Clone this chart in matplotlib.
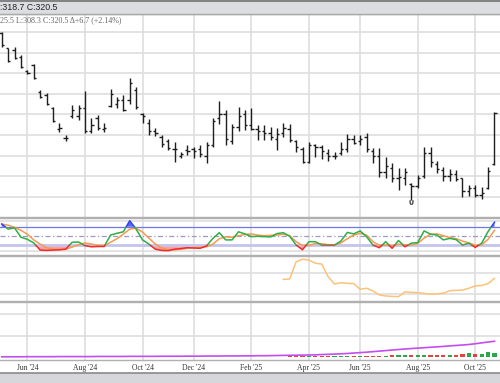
import matplotlib
matplotlib.use("Agg")
import matplotlib.pyplot as plt
import numpy as np
import pandas as pd
from matplotlib.patches import Rectangle
from matplotlib.lines import Line2D

# weekly bars, week starting on Monday
week_start = pd.date_range("2024-04-29", periods=78, freq="W-MON")

opens = [359.5, 352.0, 351.0, 348.0, 341.0, 344.0, 331.0, 329.5, 323.0, 313.0,
         308.5, 319.0, 319.0, 323.0, 312.0, 318.0, 313.0, 324.0, 325.0, 327.0,
         327.0, 332.0, 320.0, 316.0, 312.0, 309.0, 307.0, 303.0, 300.0, 302.5,
         303.0, 303.0, 300.0, 305.0, 318.0, 320.0, 307.0, 314.0, 320.0, 315.0,
         313.0, 312.0, 311.0, 308.0, 311.0, 313.0, 307.0, 303.0, 297.0, 305.0,
         304.0, 301.0, 300.0, 301.0, 303.0, 308.0, 307.0, 309.0, 302.0, 300.0,
         292.0, 294.0, 289.0, 289.0, 286.0, 285.0, 290.0, 301.0, 296.0, 293.0,
         290.0, 291.0, 289.0, 283.0, 284.0, 281.0, 284.0, 296.0]
highs = [359.9, 352.2, 352.7, 348.8, 341.4, 344.4, 331.8, 330.3, 323.5, 315.8,
         309.9, 324.5, 324.5, 331.3, 318.2, 319.7, 315.8, 332.3, 328.4, 329.4,
         337.6, 333.3, 320.6, 317.7, 313.3, 309.9, 308.0, 306.5, 301.7, 305.1,
         304.1, 305.1, 306.5, 318.2, 326.5, 322.1, 315.3, 323.5, 322.1, 323.1,
         314.8, 314.8, 313.8, 313.3, 315.8, 315.3, 307.5, 304.1, 306.5, 305.6,
         305.1, 303.1, 301.7, 306.5, 310.4, 309.9, 309.9, 310.9, 303.6, 303.6,
         299.3, 296.4, 293.9, 293.9, 286.7, 290.6, 304.1, 304.1, 297.3, 294.4,
         293.4, 292.9, 289.1, 285.7, 285.7, 284.7, 294.4, 321.1]
lows = [352.7, 345.4, 346.8, 342.5, 339.6, 337.1, 327.9, 324.5, 316.2, 311.4,
        307.0, 318.2, 317.2, 310.9, 310.9, 312.4, 311.4, 323.5, 323.1, 321.6,
        325.0, 322.6, 315.8, 309.9, 309.5, 304.1, 302.7, 296.8, 298.8, 300.2,
        298.8, 299.3, 296.4, 304.1, 315.3, 305.1, 305.6, 311.9, 312.4, 312.4,
        307.5, 307.5, 307.5, 302.7, 309.0, 306.5, 301.7, 296.4, 296.4, 299.3,
        298.3, 297.3, 298.3, 300.2, 301.7, 305.6, 305.1, 301.7, 296.4, 289.6,
        289.1, 287.2, 283.3, 285.7, 278.4, 284.2, 289.1, 294.4, 291.5, 287.6,
        287.6, 287.6, 279.9, 280.3, 279.9, 278.9, 283.7, 295.4]
closes = [353.6, 346.0, 347.5, 343.0, 340.0, 337.5, 328.5, 325.0, 317.0, 313.5,
          308.5, 322.0, 323.0, 312.0, 315.0, 313.5, 313.5, 330.0, 327.0, 322.0,
          335.0, 323.5, 319.0, 312.0, 311.0, 305.5, 303.5, 303.0, 300.5, 302.0,
          302.0, 300.5, 305.0, 317.0, 320.0, 308.0, 314.0, 319.0, 315.0, 313.0,
          312.0, 311.0, 309.0, 310.5, 313.5, 307.5, 304.0, 297.0, 305.0, 304.0,
          302.0, 300.0, 300.0, 303.0, 308.0, 306.0, 308.0, 303.0, 300.0, 292.0,
          295.0, 289.0, 289.5, 292.0, 285.0, 289.0, 301.0, 297.0, 293.5, 290.0,
          291.0, 288.5, 283.0, 284.0, 281.0, 282.0, 292.5, 320.5]

stoch_k = [89, 72, 76, 45, 38, 26, 2, 1, 2, 3,
           5, 28, 29, 17, 13, 14, 14, 52, 58, 63,
           100, 72, 36, 22, 5, 1, 0, 5, 7, 10,
           9, 8, 16, 41, 60, 36, 36, 63, 56, 47,
           48, 47, 46, 57, 60, 48, 19, 3, 30, 30,
           19, 19, 19, 32, 61, 56, 66, 47, 19, 10,
           30, 8, 34, 13, 25, 27, 66, 55, 52, 36,
           41, 37, 19, 25, 11, 25, 64, 95]
stoch_d = [89, 85, 78, 68, 55, 36, 22, 10, 5, 4,
           5, 12, 20, 26, 22, 18, 16, 28, 40, 55,
           72, 75, 62, 42, 22, 9, 3, 3, 5, 8,
           10, 11, 13, 22, 40, 46, 45, 50, 54, 56,
           52, 50, 51, 52, 55, 50, 30, 17, 18, 24,
           23, 20, 19, 26, 40, 52, 58, 52, 30, 18,
           19, 16, 22, 19, 19, 24, 42, 55, 56, 50,
           44, 40, 32, 26, 18, 20, 38, 68]

nan = np.nan
third_line = [nan] * 44 + [
    17.1, 17.3, 25.5, 26.7, 26.3, 24.8, 24.4, 18.4, 14.9, 15.5,
    15.2, 15.1, 12.4, 12.9, 11.6, 9.7, 9.2, 9.0, 8.9, 11.2,
    10.9, 10.8, 10.4, 10.1, 10.2, 10.5, 11.7, 11.9, 12.0, 12.9,
    14.0, 14.2, 15.1, 17.6]

cum_line = [0.03, 0.03, 0.03, 0.03, 0.04, 0.04, 0.04, 0.04, 0.04, 0.05,
            0.05, 0.05, 0.05, 0.05, 0.05, 0.06, 0.06, 0.06, 0.06, 0.06,
            0.07, 0.07, 0.07, 0.07, 0.07, 0.08, 0.08, 0.08, 0.08, 0.09,
            0.09, 0.09, 0.10, 0.10, 0.10, 0.11, 0.11, 0.11, 0.12, 0.12,
            0.13, 0.13, 0.14, 0.15, 0.16, 0.17, 0.18, 0.19, 0.20, 0.21,
            0.24, 0.26, 0.28, 0.31, 0.34, 0.38, 0.42, 0.46, 0.51, 0.56,
            0.61, 0.66, 0.71, 0.76, 0.80, 0.84, 0.88, 0.92, 0.96, 1.00,
            1.05, 1.09, 1.13, 1.18, 1.25, 1.33, 1.41, 1.48]
volume = [0.03] * 45 + [
    0.06, 0.07, 0.07, 0.08, 0.08, 0.09, 0.09, 0.10, 0.10, 0.11,
    0.11, 0.12, 0.12, 0.14, 0.15, 0.15, 0.16, 0.17, 0.17, 0.18,
    0.18, 0.20, 0.19, 0.20, 0.21, 0.22, 0.24, 0.26, 0.34, 0.25,
    0.30, 0.45, 0.40]

x = np.arange(len(closes))
k = np.array(stoch_k, dtype=float)
week_end = week_start + pd.Timedelta(days=6)
month_idx = [i for i, d in enumerate(week_end) if d.day <= 7 and d.month % 2 == 0]
month_lbl = [week_end[i].strftime("%b '%y") for i in month_idx]

H = 383.0
fig = plt.figure(figsize=(5, 3.83), dpi=100)
fig.patch.set_facecolor("white")


def panel(top, bottom):
    ax = fig.add_axes([0, 1 - bottom / H, 1, (bottom - top) / H])
    ax.set_xlim(-0.27, 77.86)
    ax.set_xticks(month_idx)
    ax.tick_params(length=0, labelbottom=False, labelleft=False)
    ax.grid(True, color="#dedede", lw=1.2)
    ax.set_axisbelow(True)
    for s in ["left", "right"]:
        ax.spines[s].set_visible(False)
    for s in ["top", "bottom"]:
        ax.spines[s].set_color("#b0b0b0")
        ax.spines[s].set_linewidth(1.0)
    return ax


# price panel
ax1 = panel(14, 216.5)
ax1.set_ylim(270.4, 368.7)
ax1.set_yticks(np.arange(280, 370, 10))
ax1.vlines(x, lows, highs, color="#1e1e1e", lw=1.0)
ax1.hlines(opens, x - 0.35, x, color="#1e1e1e", lw=1.0)
ax1.hlines(closes, x, x + 0.35, color="#1e1e1e", lw=1.0)
ax1.plot([x[64]], [277.2], marker="$\\cup$", color="#444444", ms=3, mew=0.4)

# stochastic panel
ax2 = panel(217.5, 254.5)
ax2.set_ylim(-12.7, 110.7)
ax2.set_yticks([0, 100])
ax2.axhline(80, color="#6f78e8", lw=0.9)
ax2.axhline(50, color="#9a9ac8", lw=0.9, ls=(0, (4, 2, 1, 2)))
ax2.axhline(20, color="#c4c4ec", lw=2.0)
ax2.fill_between(x, k, 20, where=k < 20, interpolate=True, color="#ffa0a0", lw=0)
ax2.fill_between(x, k, 80, where=k > 80, interpolate=True, color="#5a66f0", lw=0)
ax2.plot(x, stoch_d, color="#f59a50", lw=1.1)
for lo, hi, col in [(-50, 20, "#f22a2a"), (20, 80, "#2eae45"), (80, 200, "#3346f0")]:
    ln, = ax2.plot(x, k, color=col, lw=1.1)
    ln.set_clip_path(Rectangle((-5, lo), 100, hi - lo, transform=ax2.transData))

# third panel
ax3 = panel(255.5, 301)
ax3.set_ylim(6.81, 28.48)
ax3.set_yticks([10, 20])
ax3.plot(x, third_line, color="#fdc27a", lw=1.1)

# bottom panel
ax4 = panel(302, 360)
ax4.set_ylim(-0.27, 5.15)
ax4.set_yticks([2, 4])
vol_col = ["#2aa84a" if c >= o else "#e8433a" for o, c in zip(opens, closes)]
ax4.bar(x, volume, width=0.65, color=vol_col, lw=0)
ax4.plot(x, cum_line, color="#c24ef0", lw=1.2)
ax4.tick_params(labelbottom=True, pad=3)
ax4.set_xticklabels(month_lbl, fontsize=5.5, family="Liberation Serif", color="#333333")

# header strip
fig.add_artist(Rectangle((0, 1 - 14 / H), 1, 14 / H, transform=fig.transFigure,
                         facecolor="#dcdde0", edgecolor="none"))
fig.add_artist(Line2D([0, 1], [1 - 0.6 / H, 1 - 0.6 / H], transform=fig.transFigure,
                      color="#7a7a7a", lw=1.3))
fig.add_artist(Line2D([0, 1], [1 - 14 / H, 1 - 14 / H], transform=fig.transFigure,
                      color="#a8a8a8", lw=1.0))
fig.text(0.0, 1 - 7.5 / H, ":318.7 C:320.5", fontsize=6.3, family="Liberation Sans",
         color="#222222", va="center", ha="left")
fig.text(0.0, 1 - 20 / H, "25.5 L:308.3 C:320.5 \u0394+6.7 (+2.14%)", fontsize=5.8,
         family="Liberation Serif", color="#666666", va="center", ha="left")

# bottom strip
fig.add_artist(Rectangle((0, 0), 1, 10 / H, transform=fig.transFigure,
                         facecolor="#d6d7da", edgecolor="none"))
fig.add_artist(Line2D([0, 1], [10 / H, 10 / H], transform=fig.transFigure,
                      color="#8a8a8a", lw=1.2))

fig.savefig("out.png", dpi=100)
